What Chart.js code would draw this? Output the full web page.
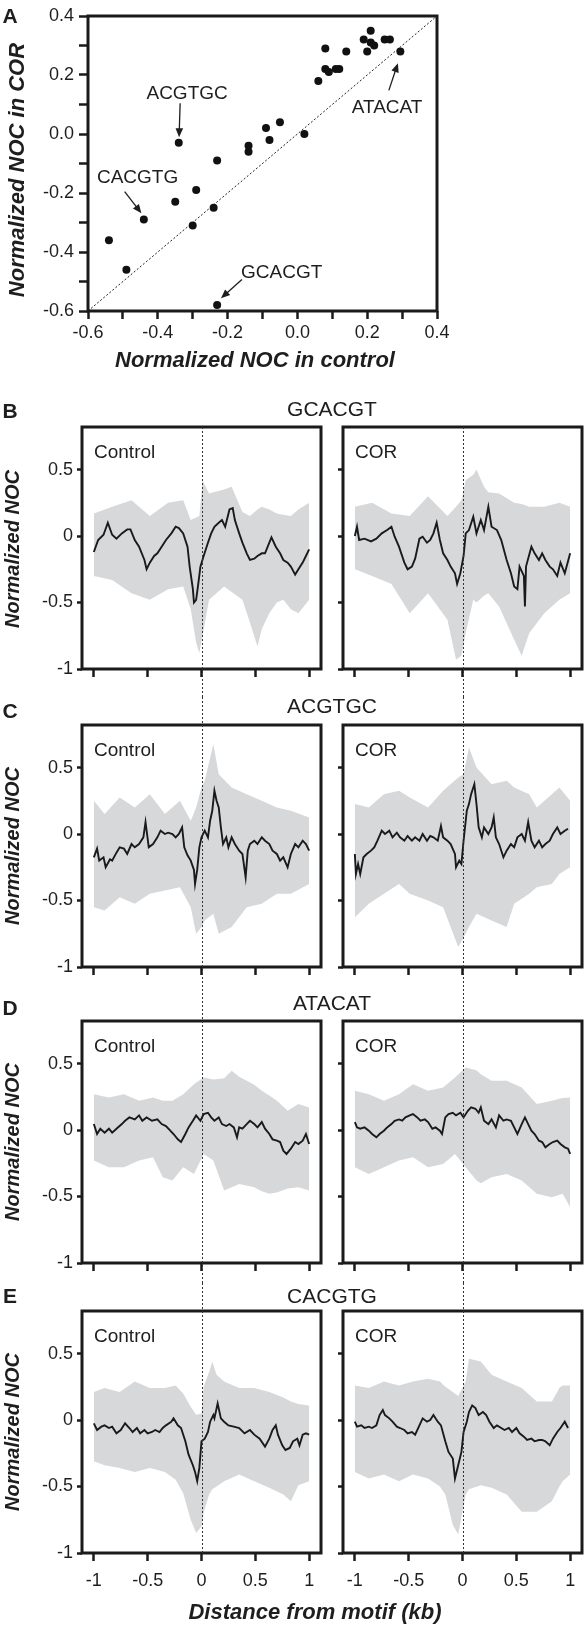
<!DOCTYPE html>
<html><head><meta charset="utf-8">
<script src="https://cdn.jsdelivr.net/npm/chart.js@4.4.1/dist/chart.umd.min.js"></script>
<style>
html,body{margin:0;padding:0;background:#fff;}
body{width:585px;height:1628px;position:relative;overflow:hidden;font-family:"Liberation Sans",Arial,Helvetica,sans-serif;color:#1e1e1e;}
canvas{position:absolute;}
.t{position:absolute;white-space:nowrap;line-height:1;transform:translate(-50%,-50%);}
.l{position:absolute;white-space:nowrap;line-height:1;transform:translateY(-50%);font-size:19px;}
.letter{font-weight:bold;font-size:21px;}
.motif{font-size:21px;}
.ax{font-weight:bold;font-style:italic;font-size:22px;}
.axs{font-weight:bold;font-style:italic;font-size:20px;transform:translate(-50%,-50%) rotate(-90deg);}
.axa{font-weight:bold;font-style:italic;font-size:22px;transform:translate(-50%,-50%) rotate(-90deg);}
</style></head><body>

<canvas id="cA" width="460" height="380" style="left:0;top:0"></canvas>
<canvas id="cB1" width="330" height="298" style="left:0;top:399px"></canvas>
<canvas id="cB2" width="255" height="298" style="left:330px;top:399px"></canvas>
<canvas id="cC1" width="330" height="296" style="left:0;top:697px"></canvas>
<canvas id="cC2" width="255" height="296" style="left:330px;top:697px"></canvas>
<canvas id="cD1" width="330" height="290" style="left:0;top:993px"></canvas>
<canvas id="cD2" width="255" height="290" style="left:330px;top:993px"></canvas>
<canvas id="cE1" width="330" height="345" style="left:0;top:1283px"></canvas>
<canvas id="cE2" width="255" height="345" style="left:330px;top:1283px"></canvas>

<div class="t letter" style="left:10px;top:15px">A</div>
<div class="t axa" style="left:17px;top:170px">Normalized NOC in COR</div>
<div class="t ax" style="left:255px;top:360px">Normalized NOC in control</div>

<div class="t letter" style="left:10px;top:410px">B</div>
<div class="t motif" style="left:332px;top:408px">GCACGT</div>
<div class="l" style="left:94px;top:451px">Control</div>
<div class="l" style="left:355px;top:451px">COR</div>
<div class="t axs" style="left:12px;top:549px">Normalized NOC</div>

<div class="t letter" style="left:10px;top:710px">C</div>
<div class="t motif" style="left:332px;top:705px">ACGTGC</div>
<div class="l" style="left:94px;top:749px">Control</div>
<div class="l" style="left:355px;top:749px">COR</div>
<div class="t axs" style="left:12px;top:846px">Normalized NOC</div>

<div class="t letter" style="left:10px;top:1007px">D</div>
<div class="t motif" style="left:332px;top:1002px">ATACAT</div>
<div class="l" style="left:94px;top:1045px">Control</div>
<div class="l" style="left:355px;top:1045px">COR</div>
<div class="t axs" style="left:12px;top:1142px">Normalized NOC</div>

<div class="t letter" style="left:10px;top:1295px">E</div>
<div class="t motif" style="left:332px;top:1295px">CACGTG</div>
<div class="l" style="left:94px;top:1335px">Control</div>
<div class="l" style="left:355px;top:1335px">COR</div>
<div class="t axs" style="left:12px;top:1432px">Normalized NOC</div>
<div class="t ax" style="left:315px;top:1612px">Distance from motif (kb)</div>

<script>
// ---------- Panel A data ----------
const nocControl = [-0.54,-0.49,-0.44,-0.35,-0.34,-0.30,-0.29,-0.24,-0.23,-0.23,-0.14,-0.14,-0.09,-0.08,-0.05,0.02,0.06,0.08,0.08,0.09,0.11,0.12,0.14,0.19,0.20,0.21,0.21,0.22,0.25,0.265,0.295];
const nocCOR     = [-0.36,-0.46,-0.29,-0.23,-0.03,-0.31,-0.19,-0.25,-0.09,-0.58,-0.04,-0.06,0.02,-0.02,0.04,0.00,0.18,0.29,0.22,0.21,0.22,0.22,0.28,0.32,0.28,0.35,0.31,0.30,0.32,0.32,0.28];
const identityLine = [-0.6, 0.4];
const aTickValues = [-0.6,-0.5,-0.4,-0.3,-0.2,-0.1,0,0.1,0.2,0.3,0.4];
const aTickLabels = ['-0.6','','-0.4','','-0.2','','0.0','','0.2','','0.4'];
const aCallouts = [
  {text:'ACGTGC', tx:-0.316, ty:0.138, x1:-0.336, y1:0.104, x2:-0.339, y2:-0.011},
  {text:'CACGTG', tx:-0.458, ty:-0.147, x1:-0.495, y1:-0.195, x2:-0.447, y2:-0.269},
  {text:'GCACGT', tx:-0.045, ty:-0.469, x1:-0.159, y1:-0.493, x2:-0.219, y2:-0.557},
  {text:'ATACAT', tx:0.257, ty:0.090, x1:0.262, y1:0.148, x2:0.288, y2:0.240}
];

// ---------- Profile panels: tick values / labels ----------
const xTickValues = [-1,-0.5,0,0.5,1];
const xTickLabels = ['-1','-0.5','0','0.5','1'];
const yTickValues = [-1,-0.5,0,0.5];
const yTickLabels = ['-1','-0.5','0','0.5'];

// lines: [distance kb, normalized NOC]; bands: [distance kb, lower, upper]
const bControlLine = [[-1.00,-0.12],[-0.96,-0.03],[-0.91,0.01],[-0.87,0.10],[-0.83,0.01],[-0.79,-0.02],[-0.74,0.02],[-0.69,0.05],[-0.66,0.05],[-0.62,-0.03],[-0.58,-0.08],[-0.53,-0.18],[-0.51,-0.25],[-0.48,-0.20],[-0.44,-0.15],[-0.41,-0.13],[-0.37,-0.08],[-0.33,-0.03],[-0.28,0.02],[-0.24,0.07],[-0.21,0.06],[-0.17,0.02],[-0.13,-0.08],[-0.11,-0.23],[-0.08,-0.40],[-0.07,-0.50],[-0.05,-0.48],[-0.03,-0.36],[-0.01,-0.23],[0.02,-0.15],[0.06,-0.05],[0.09,0.02],[0.12,0.07],[0.16,0.10],[0.19,0.12],[0.22,0.07],[0.26,0.20],[0.29,0.21],[0.31,0.12],[0.35,0.02],[0.38,-0.05],[0.42,-0.13],[0.45,-0.18],[0.49,-0.17],[0.52,-0.15],[0.56,-0.13],[0.59,-0.13],[0.63,-0.05],[0.65,-0.01],[0.69,-0.08],[0.73,-0.13],[0.76,-0.18],[0.80,-0.20],[0.83,-0.23],[0.87,-0.29],[0.90,-0.25],[0.94,-0.20],[0.97,-0.15],[1.00,-0.10]];
const bControlBand = [[-1.00,-0.30,0.17],[-0.83,-0.33,0.22],[-0.65,-0.43,0.27],[-0.48,-0.48,0.15],[-0.31,-0.40,0.25],[-0.17,-0.38,0.27],[-0.10,-0.55,0.12],[-0.05,-0.80,0.14],[-0.02,-0.88,0.15],[0.01,-0.75,0.42],[0.07,-0.48,0.32],[0.21,-0.38,0.35],[0.28,-0.42,0.37],[0.38,-0.48,0.18],[0.45,-0.65,0.15],[0.52,-0.83,0.20],[0.56,-0.70,0.22],[0.63,-0.58,0.20],[0.70,-0.50,0.17],[0.76,-0.48,0.16],[0.83,-0.55,0.15],[0.90,-0.58,0.20],[1.00,-0.48,0.25]];
const bCorLine = [[-1.00,0.00],[-0.98,0.07],[-0.96,-0.03],[-0.91,-0.02],[-0.85,-0.04],[-0.80,-0.02],[-0.75,0.02],[-0.70,0.045],[-0.66,0.07],[-0.63,-0.005],[-0.59,-0.08],[-0.54,-0.20],[-0.51,-0.25],[-0.47,-0.23],[-0.44,-0.17],[-0.40,-0.02],[-0.37,-0.005],[-0.33,-0.05],[-0.30,-0.03],[-0.27,0.02],[-0.24,0.10],[-0.21,-0.03],[-0.18,-0.13],[-0.14,-0.18],[-0.11,-0.23],[-0.07,-0.28],[-0.05,-0.36],[-0.02,-0.28],[0.01,-0.15],[0.03,0.02],[0.06,0.045],[0.10,0.145],[0.13,0.02],[0.17,0.12],[0.20,0.045],[0.24,0.22],[0.27,0.07],[0.32,0.045],[0.36,-0.03],[0.41,-0.18],[0.45,-0.28],[0.48,-0.38],[0.51,-0.40],[0.53,-0.23],[0.57,-0.30],[0.58,-0.53],[0.59,-0.23],[0.64,-0.08],[0.67,-0.13],[0.71,-0.18],[0.74,-0.13],[0.77,-0.18],[0.81,-0.23],[0.84,-0.25],[0.88,-0.30],[0.91,-0.20],[0.95,-0.28],[1.00,-0.13]];
const bCorBand = [[-1.00,-0.25,0.22],[-0.84,-0.30,0.25],[-0.66,-0.36,0.17],[-0.49,-0.58,0.15],[-0.32,-0.43,0.30],[-0.14,-0.63,0.15],[-0.06,-0.93,0.22],[-0.01,-0.90,0.27],[0.03,-0.73,0.42],[0.10,-0.48,0.46],[0.13,-0.50,0.50],[0.20,-0.45,0.37],[0.24,-0.43,0.33],[0.34,-0.53,0.32],[0.48,-0.78,0.25],[0.55,-0.90,0.24],[0.62,-0.73,0.22],[0.76,-0.58,0.22],[0.90,-0.48,0.25],[1.00,-0.43,0.22]];

const cControlLine = [[-1.00,-0.175],[-0.97,-0.11],[-0.95,-0.20],[-0.91,-0.175],[-0.89,-0.25],[-0.85,-0.19],[-0.83,-0.20],[-0.79,-0.14],[-0.76,-0.10],[-0.72,-0.11],[-0.69,-0.15],[-0.65,-0.075],[-0.62,-0.10],[-0.58,-0.075],[-0.54,-0.025],[-0.52,0.09],[-0.49,-0.10],[-0.45,-0.075],[-0.41,-0.025],[-0.38,0.025],[-0.34,0.00],[-0.31,0.01],[-0.27,0.00],[-0.24,-0.025],[-0.21,0.00],[-0.18,0.05],[-0.16,-0.10],[-0.13,-0.16],[-0.10,-0.20],[-0.07,-0.27],[-0.06,-0.375],[-0.04,-0.27],[-0.02,-0.10],[0.00,-0.025],[0.03,0.025],[0.06,-0.025],[0.08,0.10],[0.10,0.175],[0.12,0.325],[0.14,0.25],[0.16,0.20],[0.18,0.05],[0.20,-0.075],[0.23,-0.025],[0.25,-0.10],[0.28,-0.025],[0.31,-0.075],[0.35,-0.125],[0.38,-0.15],[0.41,-0.325],[0.43,-0.125],[0.45,-0.075],[0.49,-0.05],[0.52,-0.075],[0.56,-0.025],[0.59,-0.05],[0.63,-0.075],[0.66,-0.125],[0.70,-0.15],[0.73,-0.20],[0.76,-0.175],[0.80,-0.25],[0.83,-0.15],[0.87,-0.075],[0.90,-0.10],[0.94,-0.05],[0.97,-0.075],[1.00,-0.125]];
const cControlBand = [[-1.00,-0.55,0.25],[-0.90,-0.575,0.15],[-0.76,-0.475,0.275],[-0.62,-0.525,0.20],[-0.48,-0.45,0.30],[-0.34,-0.425,0.15],[-0.20,-0.40,0.25],[-0.10,-0.55,0.10],[-0.05,-0.75,0.20],[0.00,-0.70,0.35],[0.03,-0.65,0.40],[0.11,-0.60,0.675],[0.16,-0.75,0.45],[0.28,-0.70,0.35],[0.42,-0.55,0.30],[0.56,-0.525,0.25],[0.70,-0.45,0.20],[0.83,-0.45,0.175],[1.00,-0.375,0.125]];
const cCorLine = [[-1.00,-0.15],[-0.99,-0.30],[-0.97,-0.225],[-0.95,-0.30],[-0.92,-0.175],[-0.89,-0.15],[-0.85,-0.125],[-0.82,-0.10],[-0.79,-0.05],[-0.75,0.025],[-0.72,0.00],[-0.68,0.025],[-0.65,-0.025],[-0.61,0.01],[-0.58,-0.025],[-0.54,-0.05],[-0.51,-0.015],[-0.47,-0.05],[-0.44,-0.025],[-0.40,-0.05],[-0.37,0.00],[-0.33,-0.05],[-0.30,-0.015],[-0.27,-0.025],[-0.23,-0.05],[-0.20,0.06],[-0.18,-0.025],[-0.14,-0.05],[-0.11,-0.075],[-0.07,-0.15],[-0.06,-0.25],[-0.03,-0.20],[-0.01,-0.225],[0.01,-0.05],[0.04,0.175],[0.06,0.225],[0.08,0.30],[0.11,0.375],[0.13,0.225],[0.15,0.05],[0.18,-0.025],[0.20,0.05],[0.24,0.00],[0.27,0.05],[0.29,0.125],[0.31,-0.025],[0.34,-0.075],[0.38,-0.175],[0.41,-0.125],[0.45,-0.075],[0.48,-0.10],[0.51,-0.025],[0.55,0.00],[0.58,-0.05],[0.61,0.09],[0.64,-0.05],[0.67,-0.10],[0.71,-0.05],[0.74,-0.10],[0.77,-0.075],[0.81,-0.05],[0.84,0.00],[0.88,0.05],[0.91,0.00],[0.95,0.025],[0.98,0.04]];
const cCorBand = [[-1.00,-0.625,0.225],[-0.87,-0.525,0.20],[-0.73,-0.45,0.30],[-0.59,-0.375,0.325],[-0.49,-0.45,0.275],[-0.32,-0.50,0.20],[-0.18,-0.55,0.325],[-0.04,-0.85,0.425],[0.01,-0.78,0.45],[0.06,-0.70,0.65],[0.13,-0.60,0.50],[0.27,-0.65,0.375],[0.41,-0.70,0.40],[0.48,-0.525,0.35],[0.62,-0.45,0.30],[0.69,-0.40,0.20],[0.83,-0.375,0.30],[0.90,-0.30,0.35],[1.00,-0.25,0.25]];

const dControlLine = [[-1.00,0.045],[-0.97,-0.03],[-0.94,0.01],[-0.90,-0.02],[-0.86,0.01],[-0.83,-0.02],[-0.79,0.01],[-0.74,0.045],[-0.71,0.07],[-0.67,0.095],[-0.62,0.08],[-0.58,0.11],[-0.55,0.07],[-0.51,0.095],[-0.46,0.07],[-0.41,0.08],[-0.37,0.045],[-0.33,0.03],[-0.29,-0.005],[-0.26,-0.03],[-0.22,-0.07],[-0.19,-0.09],[-0.15,-0.03],[-0.12,0.02],[-0.08,0.07],[-0.05,0.11],[-0.01,0.07],[0.02,0.12],[0.06,0.13],[0.09,0.095],[0.12,0.07],[0.16,0.095],[0.19,0.045],[0.23,0.03],[0.26,0.045],[0.30,0.02],[0.33,-0.055],[0.35,0.02],[0.38,0.01],[0.42,0.045],[0.45,0.07],[0.49,0.045],[0.52,0.02],[0.56,0.06],[0.59,0.01],[0.63,-0.03],[0.66,-0.07],[0.70,-0.08],[0.73,-0.09],[0.76,-0.155],[0.79,-0.18],[0.83,-0.14],[0.87,-0.09],[0.90,-0.105],[0.94,-0.08],[0.97,-0.03],[1.00,-0.105]];
const dControlBand = [[-1.00,-0.23,0.27],[-0.86,-0.28,0.245],[-0.72,-0.28,0.27],[-0.58,-0.23,0.22],[-0.45,-0.205,0.245],[-0.36,-0.355,0.22],[-0.27,-0.38,0.22],[-0.17,-0.28,0.27],[-0.07,-0.33,0.345],[0.02,-0.18,0.395],[0.11,-0.23,0.38],[0.21,-0.455,0.39],[0.28,-0.43,0.445],[0.35,-0.405,0.40],[0.49,-0.43,0.34],[0.56,-0.46,0.295],[0.63,-0.48,0.26],[0.70,-0.47,0.22],[0.80,-0.44,0.145],[0.90,-0.43,0.195],[1.00,-0.455,0.17]];
const dCorLine = [[-1.00,0.06],[-0.98,0.02],[-0.95,0.01],[-0.91,0.02],[-0.87,-0.005],[-0.84,-0.03],[-0.80,-0.055],[-0.77,-0.03],[-0.73,-0.005],[-0.70,0.02],[-0.66,0.045],[-0.63,0.07],[-0.59,0.08],[-0.56,0.07],[-0.53,0.095],[-0.49,0.11],[-0.46,0.12],[-0.42,0.095],[-0.39,0.07],[-0.35,0.08],[-0.32,0.06],[-0.28,0.01],[-0.25,0.02],[-0.21,-0.005],[-0.19,-0.03],[-0.16,0.095],[-0.13,0.12],[-0.09,0.13],[-0.06,0.11],[-0.02,0.13],[0.01,0.095],[0.05,0.145],[0.08,0.17],[0.12,0.16],[0.15,0.13],[0.17,0.17],[0.20,0.07],[0.24,0.045],[0.27,0.08],[0.31,0.02],[0.34,0.11],[0.38,0.07],[0.41,0.08],[0.45,0.07],[0.48,0.02],[0.51,-0.03],[0.55,0.045],[0.58,0.095],[0.61,0.045],[0.64,-0.005],[0.67,-0.03],[0.71,-0.08],[0.74,-0.09],[0.77,-0.13],[0.81,-0.105],[0.84,-0.09],[0.88,-0.08],[0.91,-0.105],[0.95,-0.13],[0.98,-0.14],[1.00,-0.18]];
const dCorBand = [[-1.00,-0.28,0.295],[-0.87,-0.33,0.27],[-0.73,-0.28,0.22],[-0.59,-0.23,0.27],[-0.46,-0.205,0.345],[-0.32,-0.28,0.295],[-0.18,-0.255,0.32],[-0.07,-0.18,0.395],[0.03,-0.28,0.47],[0.13,-0.38,0.45],[0.17,-0.40,0.42],[0.27,-0.355,0.37],[0.41,-0.33,0.37],[0.55,-0.38,0.32],[0.69,-0.48,0.195],[0.83,-0.505,0.22],[0.93,-0.48,0.24],[1.00,-0.58,0.245]];

const eControlLine = [[-1.00,-0.025],[-0.97,-0.075],[-0.93,-0.05],[-0.90,-0.04],[-0.86,-0.06],[-0.83,-0.05],[-0.79,-0.10],[-0.75,-0.075],[-0.71,-0.025],[-0.67,-0.06],[-0.64,-0.09],[-0.60,-0.06],[-0.57,-0.10],[-0.53,-0.075],[-0.50,-0.10],[-0.46,-0.09],[-0.43,-0.075],[-0.39,-0.09],[-0.36,-0.06],[-0.33,-0.04],[-0.28,-0.0125],[-0.26,0.0125],[-0.22,-0.04],[-0.19,-0.06],[-0.15,-0.16],[-0.12,-0.26],[-0.08,-0.34],[-0.06,-0.39],[-0.04,-0.46],[-0.02,-0.36],[0.00,-0.16],[0.03,-0.14],[0.06,-0.09],[0.08,-0.0125],[0.11,0.0375],[0.12,0.0125],[0.15,0.125],[0.18,0.0125],[0.21,-0.0125],[0.25,-0.04],[0.30,-0.05],[0.35,-0.06],[0.40,-0.10],[0.45,-0.075],[0.49,-0.11],[0.54,-0.14],[0.59,-0.20],[0.63,-0.14],[0.66,-0.075],[0.69,-0.04],[0.71,-0.11],[0.75,-0.19],[0.78,-0.225],[0.82,-0.21],[0.85,-0.16],[0.89,-0.14],[0.91,-0.19],[0.94,-0.11],[0.97,-0.10],[1.00,-0.11]];
const eControlBand = [[-1.00,-0.31,0.21],[-0.90,-0.34,0.24],[-0.76,-0.36,0.21],[-0.62,-0.39,0.29],[-0.48,-0.36,0.24],[-0.34,-0.39,0.24],[-0.24,-0.45,0.26],[-0.17,-0.55,0.20],[-0.10,-0.75,0.10],[-0.05,-0.85,0.04],[0.00,-0.80,0.05],[0.02,-0.70,0.25],[0.07,-0.56,0.36],[0.10,-0.52,0.44],[0.14,-0.50,0.34],[0.21,-0.46,0.29],[0.35,-0.41,0.24],[0.49,-0.46,0.24],[0.63,-0.51,0.21],[0.76,-0.56,0.17],[0.83,-0.61,0.14],[0.90,-0.49,0.12],[1.00,-0.46,0.11]];
const eCorLine = [[-1.00,-0.0125],[-0.98,-0.05],[-0.94,-0.04],[-0.91,-0.06],[-0.87,-0.05],[-0.84,-0.06],[-0.80,-0.04],[-0.77,0.0375],[-0.74,0.075],[-0.72,0.0375],[-0.68,0.0125],[-0.65,-0.0125],[-0.61,-0.05],[-0.58,-0.06],[-0.54,-0.075],[-0.51,-0.10],[-0.47,-0.09],[-0.44,-0.11],[-0.40,-0.04],[-0.37,0.0125],[-0.33,-0.0125],[-0.30,0.00],[-0.27,0.0375],[-0.23,-0.0125],[-0.20,-0.04],[-0.16,-0.16],[-0.13,-0.24],[-0.09,-0.29],[-0.07,-0.44],[-0.04,-0.34],[-0.01,-0.24],[0.01,-0.09],[0.04,-0.0125],[0.06,0.06],[0.09,0.11],[0.12,0.09],[0.15,0.0375],[0.19,0.06],[0.22,0.0375],[0.25,-0.0125],[0.29,-0.06],[0.32,-0.04],[0.36,-0.06],[0.39,-0.075],[0.43,-0.06],[0.46,-0.09],[0.50,-0.06],[0.53,-0.10],[0.57,-0.125],[0.60,-0.15],[0.64,-0.14],[0.67,-0.16],[0.71,-0.15],[0.74,-0.15],[0.77,-0.16],[0.81,-0.19],[0.84,-0.14],[0.88,-0.09],[0.91,-0.06],[0.95,-0.0125],[0.98,-0.06]];
const eCorBand = [[-1.00,-0.39,0.26],[-0.87,-0.44,0.24],[-0.73,-0.41,0.29],[-0.59,-0.46,0.26],[-0.46,-0.41,0.29],[-0.32,-0.44,0.31],[-0.21,-0.50,0.29],[-0.16,-0.56,0.25],[-0.09,-0.79,0.21],[-0.04,-0.86,0.18],[0.03,-0.56,0.29],[0.06,-0.52,0.46],[0.17,-0.49,0.44],[0.27,-0.51,0.34],[0.41,-0.56,0.29],[0.55,-0.69,0.24],[0.69,-0.69,0.14],[0.83,-0.61,0.14],[0.90,-0.50,0.24],[0.93,-0.46,0.26],[1.00,-0.41,0.26]];

// ---------- rendering ----------
Chart.defaults.font.family = '"Liberation Sans", Arial, Helvetica, sans-serif';
Chart.defaults.color = '#1e1e1e';
const INK = '#1a1a1a';
const BAND = '#d7d8da';

const framePlugin = {
  id: 'frame',
  afterDatasetsDraw(chart) {
    const {ctx, chartArea: a} = chart;
    ctx.save();
    ctx.lineWidth = 3;
    ctx.strokeStyle = INK;
    ctx.strokeRect(a.left, a.top, a.right - a.left, a.bottom - a.top);
    ctx.restore();
  }
};

const zeroLinePlugin = {
  id: 'zeroLine',
  afterDatasetsDraw(chart, args, o) {
    if (!o || !o.show) return;
    const {ctx, chartArea: a} = chart;
    const x = Math.round(chart.scales.x.getPixelForValue(0)) + 0.5;
    const y1 = o.fromCanvasTop ? 0 : a.top;
    const y2 = o.toCanvasBottom ? chart.height : a.bottom;
    ctx.save();
    ctx.strokeStyle = '#333';
    ctx.lineWidth = 1;
    ctx.setLineDash([2, 2]);
    ctx.beginPath();
    ctx.moveTo(x, y1);
    ctx.lineTo(x, y2);
    ctx.stroke();
    ctx.restore();
  }
};

const calloutPlugin = {
  id: 'callouts',
  afterDatasetsDraw(chart) {
    const {ctx} = chart;
    const xs = chart.scales.x, ys = chart.scales.y;
    ctx.save();
    ctx.fillStyle = '#1e1e1e';
    ctx.strokeStyle = '#1e1e1e';
    ctx.font = '19px "Liberation Sans", Arial, sans-serif';
    ctx.textAlign = 'center';
    ctx.textBaseline = 'middle';
    aCallouts.forEach(c => {
      ctx.fillText(c.text, xs.getPixelForValue(c.tx), ys.getPixelForValue(c.ty));
      const x1 = xs.getPixelForValue(c.x1), y1 = ys.getPixelForValue(c.y1);
      const x2 = xs.getPixelForValue(c.x2), y2 = ys.getPixelForValue(c.y2);
      const ang = Math.atan2(y2 - y1, x2 - x1);
      const hl = 9, hw = 3.8;
      ctx.lineWidth = 1.3;
      ctx.beginPath();
      ctx.moveTo(x1, y1);
      ctx.lineTo(x2 - Math.cos(ang) * hl * 0.8, y2 - Math.sin(ang) * hl * 0.8);
      ctx.stroke();
      ctx.beginPath();
      ctx.moveTo(x2, y2);
      ctx.lineTo(x2 - Math.cos(ang) * hl - Math.sin(ang) * hw, y2 - Math.sin(ang) * hl + Math.cos(ang) * hw);
      ctx.lineTo(x2 - Math.cos(ang) * hl + Math.sin(ang) * hw, y2 - Math.sin(ang) * hl - Math.cos(ang) * hw);
      ctx.closePath();
      ctx.fill();
    });
    ctx.restore();
  }
};

function setTicks(values) {
  return scale => { scale.ticks = values.map(v => ({value: v})); };
}

// Panel A
new Chart(document.getElementById('cA'), {
  type: 'scatter',
  data: {
    datasets: [
      {type: 'scatter', data: nocControl.map((v, i) => ({x: v, y: nocCOR[i]})),
       pointRadius: 4, backgroundColor: '#111', borderWidth: 0},
      {type: 'line', data: identityLine.map(v => ({x: v, y: v})), borderColor: '#222', borderWidth: 1,
       borderDash: [2, 2], pointRadius: 0, fill: false}
    ]
  },
  options: {
    responsive: false, animation: false, events: [],
    layout: {autoPadding: false, padding: {top: 16, right: 23, left: 0, bottom: 0}},
    plugins: {legend: {display: false}, tooltip: {enabled: false}},
    scales: {
      x: {type: 'linear', min: -0.6, max: 0.4,
          afterBuildTicks: setTicks(aTickValues), afterFit: s => { s.height = 69; },
          grid: {drawOnChartArea: false, drawTicks: true, tickLength: 8, tickWidth: 2.5, tickColor: INK},
          border: {display: false},
          ticks: {autoSkip: false, maxRotation: 0, minRotation: 0, padding: 3, font: {size: 18}, color: '#1e1e1e',
                  callback: (v, i) => aTickLabels[i]}},
      y: {type: 'linear', min: -0.6, max: 0.4,
          afterBuildTicks: setTicks(aTickValues), afterFit: s => { s.width = 88; },
          grid: {drawOnChartArea: false, drawTicks: true, tickLength: 9, tickWidth: 2.5, tickColor: INK},
          border: {display: false},
          ticks: {autoSkip: false, padding: 5, font: {size: 18}, color: '#1e1e1e',
                  callback: (v, i) => aTickLabels[i]}}
    }
  },
  plugins: [framePlugin, calloutPlugin]
});

function profileChart(id, line, band, cfg) {
  new Chart(document.getElementById(id), {
    type: 'line',
    data: {
      datasets: [
        {data: line.map(p => ({x: p[0], y: p[1]})), fill: false, borderColor: INK,
         borderWidth: 1.9, pointRadius: 0, tension: 0, borderJoinStyle: 'miter'},
        {data: band.map(p => ({x: p[0], y: p[2]})), fill: '+1', backgroundColor: BAND,
         borderColor: 'rgba(0,0,0,0)', borderWidth: 0, pointRadius: 0, tension: 0},
        {data: band.map(p => ({x: p[0], y: p[1]})), fill: false,
         borderColor: 'rgba(0,0,0,0)', borderWidth: 0, pointRadius: 0, tension: 0}
      ]
    },
    options: {
      responsive: false, animation: false, events: [],
      layout: {autoPadding: false, padding: {top: 28, left: 0, right: cfg.padRight, bottom: 0}},
      plugins: {legend: {display: false}, tooltip: {enabled: false},
                zeroLine: {show: true, fromCanvasTop: cfg.fromTop, toCanvasBottom: cfg.toBottom}},
      scales: {
        x: {type: 'linear', min: -1.11, max: 1.11,
            afterBuildTicks: setTicks(xTickValues), afterFit: s => { s.height = cfg.xH; },
            grid: {drawOnChartArea: false, drawTicks: true, tickLength: 8, tickWidth: 2.5, tickColor: INK},
            border: {display: false},
            ticks: {display: cfg.xLabels, autoSkip: false, maxRotation: 0, minRotation: 0, padding: 9,
                    font: {size: 18}, color: '#1e1e1e', callback: (v, i) => xTickLabels[i]}},
        y: {type: 'linear', min: -1, max: 0.82,
            afterBuildTicks: setTicks(yTickValues), afterFit: s => { s.width = cfg.yW; },
            grid: {drawOnChartArea: false, drawTicks: true, tickLength: 5, tickWidth: 2.5, tickColor: INK},
            border: {display: false},
            ticks: {display: cfg.yLabels, autoSkip: false, padding: 4, font: {size: 18}, color: '#1e1e1e',
                    callback: (v, i) => yTickLabels[i]}}
      }
    },
    plugins: [framePlugin, zeroLinePlugin]
  });
}

const rowsCfg = [
  {ids: ['cB1', 'cB2'], lines: [bControlLine, bCorLine], bands: [bControlBand, bCorBand], xH: 28, fromTop: false, toBottom: true, xLabels: false},
  {ids: ['cC1', 'cC2'], lines: [cControlLine, cCorLine], bands: [cControlBand, cCorBand], xH: 26, fromTop: true, toBottom: true, xLabels: false},
  {ids: ['cD1', 'cD2'], lines: [dControlLine, dCorLine], bands: [dControlBand, dCorBand], xH: 20, fromTop: true, toBottom: true, xLabels: false},
  {ids: ['cE1', 'cE2'], lines: [eControlLine, eCorLine], bands: [eControlBand, eCorBand], xH: 75, fromTop: true, toBottom: false, xLabels: true}
];
rowsCfg.forEach(r => {
  profileChart(r.ids[0], r.lines[0], r.bands[0], {padRight: 9, yW: 82, yLabels: true, xH: r.xH, fromTop: r.fromTop, toBottom: r.toBottom, xLabels: r.xLabels});
  profileChart(r.ids[1], r.lines[1], r.bands[1], {padRight: 3, yW: 13, yLabels: false, xH: r.xH, fromTop: r.fromTop, toBottom: r.toBottom, xLabels: r.xLabels});
});
</script>
</body></html>
